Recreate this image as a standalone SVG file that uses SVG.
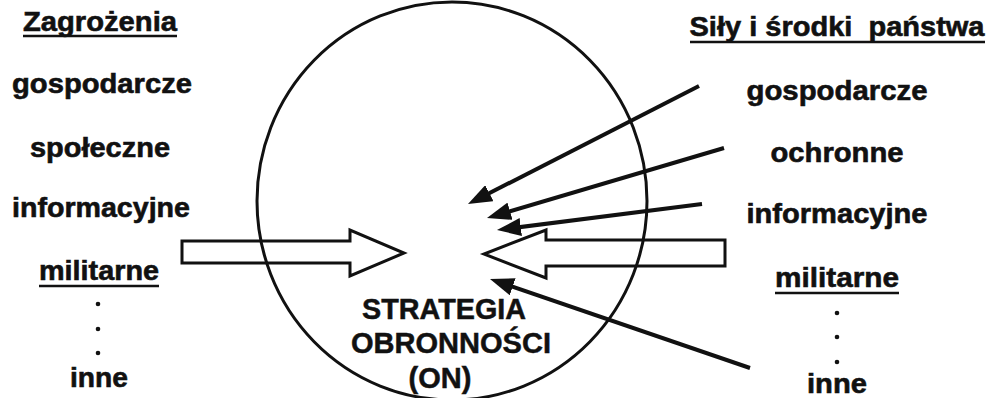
<svg xmlns="http://www.w3.org/2000/svg" width="996" height="398" viewBox="0 0 996 398">
<style>
  .t { font-family: "Liberation Sans", Arial, sans-serif; font-weight: bold; font-size: 28px; fill: #111; stroke: #111; stroke-width: 0.6; text-anchor: middle; }
  .c { font-family: "Liberation Sans", Arial, sans-serif; font-weight: bold; font-size: 29px; fill: #111; stroke: #111; stroke-width: 0.5; text-anchor: middle; }
  .ul { stroke: #111; stroke-width: 2.5; }
  .dot { fill: #111; }
  .conn { stroke: #111; stroke-width: 4; fill: none; marker-end: url(#ah); }
  .block { stroke: #111; stroke-width: 3; fill: none; stroke-linejoin: miter; }
</style>
<defs>
  <marker id="ah" viewBox="0 0 24 18" refX="15" refY="9" markerWidth="24" markerHeight="18" markerUnits="userSpaceOnUse" orient="auto">
    <path d="M0,0 L24,9 L0,18 z" fill="#111"/>
  </marker>
</defs>
<rect x="0" y="0" width="996" height="398" fill="#fff"/>

<g id="strategy">
  <ellipse cx="452" cy="201" rx="195" ry="199" fill="none" stroke="#111" stroke-width="3"/>
  <text class="c" x="444" y="319" textLength="164" lengthAdjust="spacingAndGlyphs">STRATEGIA</text>
  <text class="c" x="451" y="353" textLength="200" lengthAdjust="spacingAndGlyphs">OBRONNOŚCI</text>
  <text class="c" x="440" y="388">(ON)</text>
</g>

<g id="threats">
  <text class="t" x="100" y="31" textLength="154" lengthAdjust="spacingAndGlyphs">Zagrożenia</text>
  <line class="ul" x1="23" y1="36" x2="177" y2="36"/>
  <text class="t" x="102" y="93" textLength="180" lengthAdjust="spacingAndGlyphs">gospodarcze</text>
  <text class="t" x="100" y="157" textLength="140" lengthAdjust="spacingAndGlyphs">społeczne</text>
  <text class="t" x="101" y="217" textLength="178" lengthAdjust="spacingAndGlyphs">informacyjne</text>
  <text class="t" x="99" y="280" textLength="120" lengthAdjust="spacingAndGlyphs">militarne</text>
  <line class="ul" x1="39" y1="286" x2="159" y2="286"/>
  <circle class="dot" cx="98" cy="304" r="2.3"/>
  <circle class="dot" cx="98" cy="329" r="2.3"/>
  <circle class="dot" cx="98" cy="353" r="2.3"/>
  <text class="t" x="99" y="387" textLength="58" lengthAdjust="spacingAndGlyphs">inne</text>
</g>

<g id="forces">
  <text class="t" x="837" y="36" textLength="295" lengthAdjust="spacingAndGlyphs" xml:space="preserve">Siły i środki  państwa</text>
  <line class="ul" x1="690" y1="42" x2="985" y2="42"/>
  <text class="t" x="837" y="100" textLength="181" lengthAdjust="spacingAndGlyphs">gospodarcze</text>
  <text class="t" x="837" y="162" textLength="133" lengthAdjust="spacingAndGlyphs">ochronne</text>
  <text class="t" x="837" y="223" textLength="181" lengthAdjust="spacingAndGlyphs">informacyjne</text>
  <text class="t" x="837" y="287" textLength="124" lengthAdjust="spacingAndGlyphs">militarne</text>
  <line class="ul" x1="775" y1="293" x2="899" y2="293"/>
  <circle class="dot" cx="837" cy="313" r="2.3"/>
  <circle class="dot" cx="837" cy="337" r="2.3"/>
  <circle class="dot" cx="837" cy="362" r="2.3"/>
  <text class="t" x="837" y="393" textLength="60" lengthAdjust="spacingAndGlyphs">inne</text>
</g>

<g id="connectors">
  <path class="block" d="M182,241 L350,241 L350,230 L404,253 L350,276 L350,263 L182,263 Z"/>
  <path class="block" d="M725,240 L546,240 L546,230 L484,254 L546,278 L546,266 L725,266 Z"/>
  <line class="conn" x1="699" y1="86" x2="476" y2="200"/>
  <line class="conn" x1="724" y1="148" x2="495.6" y2="215.5"/>
  <line class="conn" x1="702" y1="204" x2="505.9" y2="228.9"/>
  <line class="conn" x1="750" y1="368" x2="498.5" y2="281.9"/>
</g>
</svg>
